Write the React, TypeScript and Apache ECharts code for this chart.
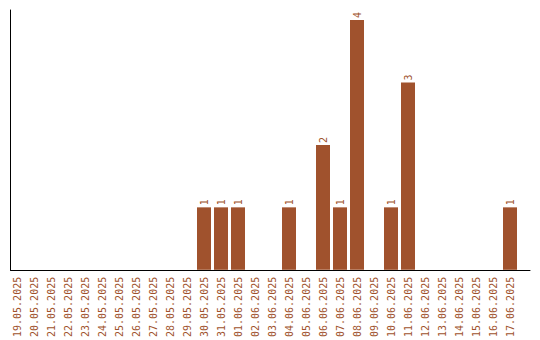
import React, { useEffect, useRef } from "react";
import * as echarts from "echarts";

const categories = [
  "19.05.2025", "20.05.2025", "21.05.2025", "22.05.2025", "23.05.2025",
  "24.05.2025", "25.05.2025", "26.05.2025", "27.05.2025", "28.05.2025",
  "29.05.2025", "30.05.2025", "31.05.2025", "01.06.2025", "02.06.2025",
  "03.06.2025", "04.06.2025", "05.06.2025", "06.06.2025", "07.06.2025",
  "08.06.2025", "09.06.2025", "10.06.2025", "11.06.2025", "12.06.2025",
  "13.06.2025", "14.06.2025", "15.06.2025", "16.06.2025", "17.06.2025",
];
const counts = [
  0, 0, 0, 0, 0, 0, 0, 0, 0, 0,
  0, 1, 1, 1, 0, 0, 1, 0, 2, 1,
  4, 0, 1, 3, 0, 0, 0, 0, 0, 1,
];

const BROWN = "#A0522D";
const FONT = "DejaVu Sans Mono";

export default function App() {
  const ref = useRef<HTMLDivElement>(null);
  useEffect(() => {
    document.body.style.margin = "0";
    if (!ref.current) return;
    const chart = echarts.init(ref.current, null, { renderer: "svg" });
    chart.setOption({
      animation: false,
      backgroundColor: "#ffffff",
      grid: [
        { left: 8.5, width: 510, top: 20, bottom: 70 },
        { left: 10.5, right: 10, top: 10, bottom: 70 },
      ],
      xAxis: [
        {
          type: "category",
          gridIndex: 0,
          data: categories,
          axisLine: { show: false },
          axisTick: { show: false },
          axisLabel: {
            rotate: 90,
            interval: 0,
            margin: 7,
            color: BROWN,
            fontFamily: FONT,
            fontSize: 10,
          },
        },
        {
          type: "value",
          gridIndex: 1,
          min: 0,
          max: 1,
          axisLine: { show: true, lineStyle: { color: "#000", width: 1 } },
          axisTick: { show: false },
          axisLabel: { show: false },
          splitLine: { show: false },
        },
      ],
      yAxis: [
        {
          type: "value",
          gridIndex: 0,
          min: 0,
          max: 4,
          axisLine: { show: false },
          axisTick: { show: false },
          axisLabel: { show: false },
          splitLine: { show: false },
        },
        {
          type: "value",
          gridIndex: 1,
          min: 0,
          max: 1,
          axisLine: { show: true, lineStyle: { color: "#000", width: 1 } },
          axisTick: { show: false },
          axisLabel: { show: false },
          splitLine: { show: false },
        },
      ],
      series: [
        {
          type: "bar",
          xAxisIndex: 0,
          yAxisIndex: 0,
          data: counts,
          barWidth: 14,
          itemStyle: { color: BROWN },
          label: {
            show: true,
            position: "top",
            rotate: 90,
            align: "left",
            verticalAlign: "middle",
            distance: 2,
            color: BROWN,
            fontFamily: FONT,
            fontSize: 10,
            formatter: (p: any) => (p.value > 0 ? String(p.value) : ""),
          },
        },
      ],
    });
    return () => chart.dispose();
  }, []);
  return <div ref={ref} style={{ width: 540, height: 340 }} />;
}
